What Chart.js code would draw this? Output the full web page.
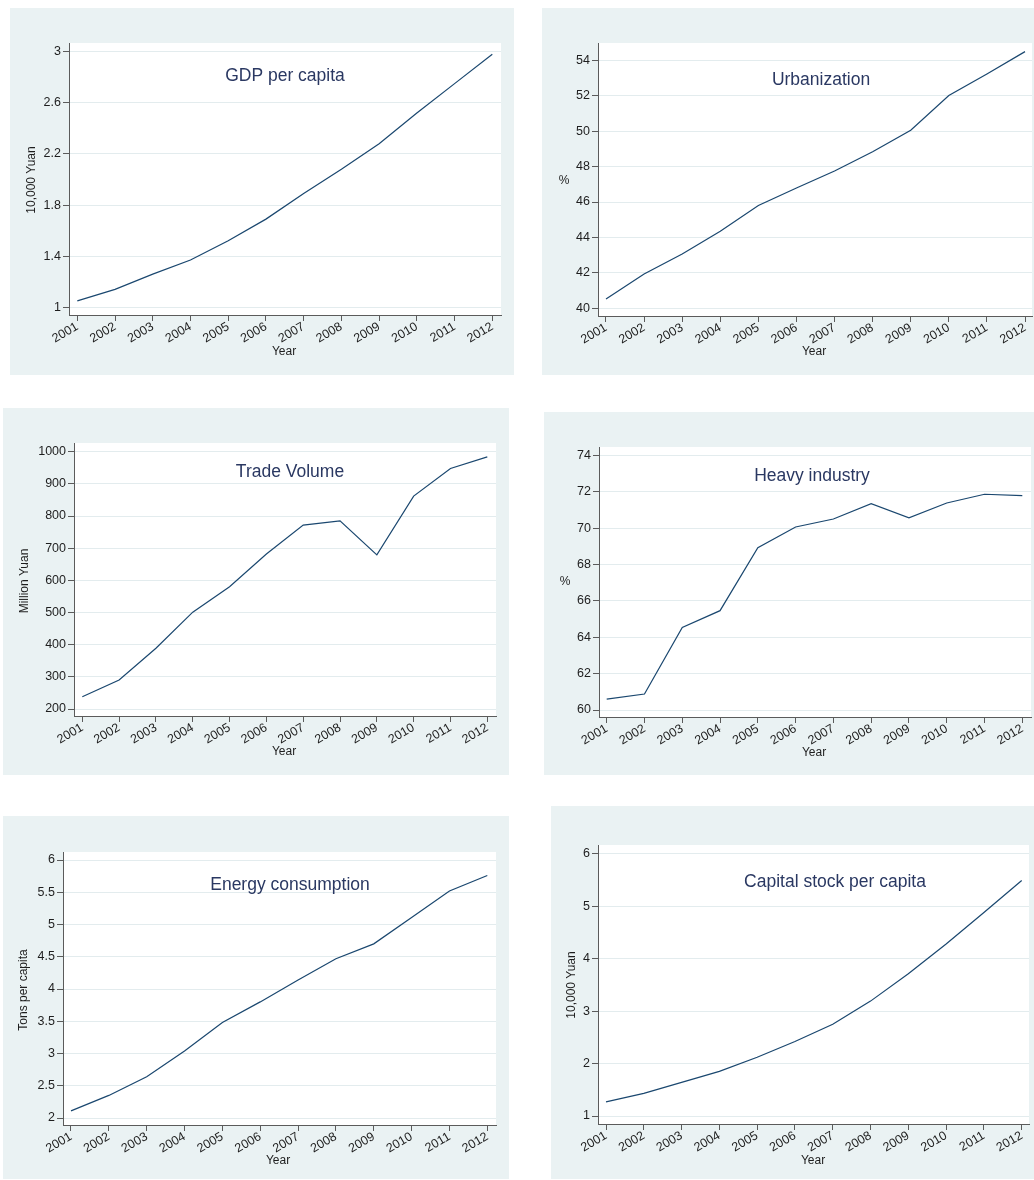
<!DOCTYPE html>
<html>
<head>
<meta charset="utf-8">
<script src="https://cdn.jsdelivr.net/npm/chart.js@4.4.1/dist/chart.umd.min.js"></script>
<style>
html, body { margin: 0; padding: 0; background: #ffffff; }
body { position: relative; width: 1034px; height: 1180px; overflow: hidden; }
canvas.panel { position: absolute; display: block; }
</style>
</head>
<body>
<script>
// ---------------- data ----------------
const years = [2001, 2002, 2003, 2004, 2005, 2006, 2007, 2008, 2009, 2010, 2011, 2012];

const gdpPerCapita      = [1.05, 1.14, 1.26, 1.37, 1.52, 1.69, 1.89, 2.08, 2.28, 2.52, 2.75, 2.98];
const urbanization      = [40.53, 41.94, 43.07, 44.35, 45.80, 46.79, 47.75, 48.84, 50.05, 52.01, 53.23, 54.49];
const tradeVolume       = [238, 290, 389, 501, 580, 682, 772, 785, 679, 862, 948, 984];
const heavyIndustry     = [60.60, 60.88, 64.54, 65.46, 68.92, 70.06, 70.50, 71.34, 70.56, 71.38, 71.86, 71.78];
const energyConsumption = [2.11, 2.35, 2.64, 3.04, 3.48, 3.80, 4.14, 4.47, 4.70, 5.11, 5.52, 5.76];
const capitalStock      = [1.27, 1.43, 1.64, 1.85, 2.12, 2.42, 2.75, 3.19, 3.71, 4.28, 4.88, 5.49];

const gdpTicks     = [1, 1.4, 1.8, 2.2, 2.6, 3];
const urbanTicks   = [40, 42, 44, 46, 48, 50, 52, 54];
const tradeTicks   = [200, 300, 400, 500, 600, 700, 800, 900, 1000];
const heavyTicks   = [60, 62, 64, 66, 68, 70, 72, 74];
const energyTicks  = [2, 2.5, 3, 3.5, 4, 4.5, 5, 5.5, 6];
const capitalTicks = [1, 2, 3, 4, 5, 6];

const panelTitles = ['GDP per capita', 'Urbanization', 'Trade Volume', 'Heavy industry', 'Energy consumption', 'Capital stock per capita'];
const yTitles = ['10,000 Yuan', '%', 'Million Yuan', '%', 'Tons per capita', '10,000 Yuan'];
const xTitle = 'Year';

const seriesList = [gdpPerCapita, urbanization, tradeVolume, heavyIndustry, energyConsumption, capitalStock];
const tickList = [gdpTicks, urbanTicks, tradeTicks, heavyTicks, energyTicks, capitalTicks];

// ---------------- layout (page pixels) ----------------
const frames = [
  {bg:[10,8,514,375],    plot:[69,43,501,315],    xt:[77.3,492.3],  yt:[307.3,51.7],  title:[285,76.5],   yTitle:[31.5,180], xTitle:[284,352],  rotY:true},
  {bg:[542,8,1034,375],  plot:[598,43,1032,316],  xt:[606,1025],    yt:[308.3,60.3],  title:[821,80],     yTitle:[564,181],  xTitle:[814,352],  rotY:false},
  {bg:[3,408,509,775],   plot:[74,443,496,716],   xt:[82.3,487.3],  yt:[709,451.7],   title:[290,471.7],  yTitle:[25,581],   xTitle:[284,752],  rotY:true},
  {bg:[544,412,1034,775],plot:[599,447,1031,717], xt:[606.7,1022.3],yt:[710,455.3],   title:[812,475.7],  yTitle:[565,582],  xTitle:[814,753],  rotY:false},
  {bg:[3,816,509,1179],  plot:[63,852,496,1125],  xt:[71,487.3],    yt:[1118,860],    title:[290,884.7],  yTitle:[24,990],   xTitle:[278,1161], rotY:true},
  {bg:[551,806,1034,1179],plot:[598,845,1029,1124],xt:[606,1021.7], yt:[1116,853.7],  title:[835,881.7],  yTitle:[572,985],  xTitle:[813,1161], rotY:true}
];

const BG = '#eaf2f3';
const GRID = '#e3ecee';
const AXIS = '#5b5b5b';
const LINE = '#1a476f';
const TITLE_COLOR = '#2a3862';
const TEXT = '#1e1e1e';
const FONT = '"Liberation Sans", Arial, Helvetica, sans-serif';

function axisBounds(p0, p1, v0, v1, e0, e1) {
  const k = (p1 - p0) / (v1 - v0);
  return [v0 + (e0 - p0) / k, v0 + (e1 - p0) / k];
}

const decor = {
  id: 'decor',
  beforeDraw(chart, args, o) {
    const {ctx, chartArea: a, width, height} = chart;
    ctx.save();
    ctx.fillStyle = BG;
    ctx.fillRect(0, 0, width, height);
    ctx.fillStyle = '#ffffff';
    ctx.fillRect(a.left, a.top, a.right - a.left, a.bottom - a.top);
    ctx.restore();
  },
  afterDraw(chart, args, o) {
    const ctx = chart.ctx;
    ctx.save();
    ctx.textAlign = 'center';
    ctx.textBaseline = 'middle';
    ctx.fillStyle = TITLE_COLOR;
    ctx.font = '17.5px ' + FONT;
    ctx.fillText(o.title, o.tx, o.ty);
    ctx.fillStyle = TEXT;
    ctx.font = '12px ' + FONT;
    ctx.fillText(o.xTitle, o.xx, o.xy);
    ctx.translate(o.yx, o.yy);
    if (o.rotY) ctx.rotate(-Math.PI / 2);
    ctx.fillText(o.yTitle, 0, 0);
    ctx.restore();
  }
};

frames.forEach((f, i) => {
  const [bl, bt, br, bb] = f.bg;
  const [pl, pt, pr, pb] = f.plot;
  const W = br - bl, H = bb - bt;
  const canvas = document.createElement('canvas');
  canvas.className = 'panel';
  canvas.width = W; canvas.height = H;
  canvas.style.left = bl + 'px'; canvas.style.top = bt + 'px';
  canvas.style.width = W + 'px'; canvas.style.height = H + 'px';
  document.body.appendChild(canvas);

  const yt = tickList[i];
  const [xMin, xMax] = axisBounds(f.xt[0], f.xt[1], years[0], years[years.length - 1], pl, pr);
  const [yMin, yMax] = axisBounds(f.yt[0], f.yt[1], yt[0], yt[yt.length - 1], pb, pt);
  const yAxisWidth = pl - bl;
  const xAxisHeight = bb - pb;

  new Chart(canvas, {
    type: 'line',
    data: {
      datasets: [{
        data: years.map((yr, k) => ({x: yr, y: seriesList[i][k]})),
        borderColor: LINE,
        borderWidth: 1.2,
        pointRadius: 0,
        tension: 0,
        fill: false
      }]
    },
    options: {
      responsive: false,
      devicePixelRatio: 1,
      animation: false,
      layout: { padding: { left: 0, top: pt - bt, right: br - pr, bottom: 0 } },
      plugins: {
        legend: { display: false },
        tooltip: { enabled: false },
        decor: {
          title: panelTitles[i], tx: f.title[0] - bl, ty: f.title[1] - bt,
          xTitle: xTitle, xx: f.xTitle[0] - bl, xy: f.xTitle[1] - bt,
          yTitle: yTitles[i], yx: f.yTitle[0] - bl, yy: f.yTitle[1] - bt, rotY: f.rotY
        }
      },
      scales: {
        x: {
          type: 'linear',
          min: xMin, max: xMax,
          afterBuildTicks: s => { s.ticks = years.map(v => ({value: v})); },
          afterFit: s => { s.height = xAxisHeight; },
          ticks: {
            autoSkip: false,
            minRotation: 30, maxRotation: 30,
            padding: 0,
            color: TEXT,
            font: { family: FONT, size: 12.5, lineHeight: 0.9 },
            callback: v => String(v)
          },
          grid: { drawOnChartArea: false, drawTicks: true, tickLength: 6, tickColor: AXIS, tickWidth: 1 },
          border: { display: true, color: AXIS, width: 1 }
        },
        y: {
          type: 'linear',
          min: yMin, max: yMax,
          afterBuildTicks: s => { s.ticks = yt.map(v => ({value: v})); },
          afterFit: s => { s.width = yAxisWidth; },
          ticks: {
            padding: 2,
            color: TEXT,
            font: { family: FONT, size: 12.5 },
            callback: v => String(v)
          },
          grid: { color: GRID, lineWidth: 1, drawTicks: true, tickLength: 6, tickColor: AXIS, tickWidth: 1 },
          border: { display: true, color: AXIS, width: 1 }
        }
      }
    },
    plugins: [decor]
  });
});
</script>
</body>
</html>
